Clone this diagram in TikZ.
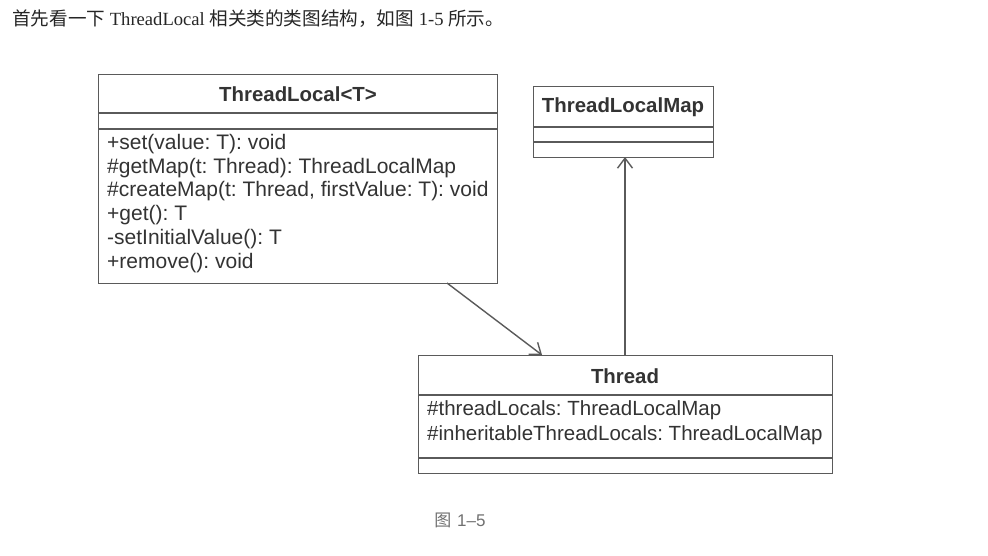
\documentclass[tikz,border=0pt]{standalone}
\usepackage{fontspec}
\setmainfont{Liberation Serif}
\setsansfont{Liberation Sans}
\newfontfamily\cjk{Noto Sans CJK SC}
\usetikzlibrary{arrows.meta}
\definecolor{umltxt}{HTML}{333333}
\definecolor{umlline}{HTML}{5A5A5A}
\definecolor{capgray}{HTML}{707070}
\tikzset{
  umlbox/.style={draw=umlline, line width=1.4pt, fill=white, rectangle, inner sep=0pt, anchor=north west},
  umlsep/.style={draw=umlline, line width=1.4pt},
  umltitle/.style={font=\sffamily\bfseries\fontsize{20.4}{24}\selectfont, text=umltxt, inner sep=0pt},
  umltext/.style={font=\sffamily\fontsize{21}{24}\selectfont\frenchspacing, text=umltxt, inner sep=0pt, anchor=mid west},
  umlfield/.style={umltext, font=\sffamily\fontsize{20.5}{24}\selectfont\frenchspacing},
  umlarrow/.style={draw=umlline, line width=1.4pt, -{Straight Barb[length=10pt,width=15pt,line width=1.4pt]}},
}
\begin{document}
\begin{tikzpicture}[x=1pt,y=-1pt]
\useasboundingbox (0,0) rectangle (988,555);
% intro text
\node[anchor=west, inner sep=0pt, text=black!85, font=\fontsize{18.6}{22}\selectfont] (intro) at (12,19)
  {{\cjk 首先看一下} ThreadLocal {\cjk 相关类的类图结构，如图} 1-5 {\cjk 所示。}};
% ThreadLocal<T>
\node[umlbox, minimum width=399pt, minimum height=209pt] (tl) at (98,74) {};
\draw[umlsep] (98,113) -- (497,113);
\draw[umlsep] (98,129) -- (497,129);
\node[umltitle] (tlname) at (298,94) {ThreadLocal<T>};
\node[umltext] (m1) at (107,147) {+set(value: T): void};
\node[umltext] (m2) at (107,171) {\#getMap(t: Thread): ThreadLocalMap};
\node[umltext] (m3) at (107,194.5) {\#createMap(t: Thread, firstValue: T): void};
\node[umltext] (m4) at (107,218) {+get(): T};
\node[umltext] (m5) at (107,242) {-setInitialValue(): T};
\node[umltext] (m6) at (107,266) {+remove(): void};
% ThreadLocalMap
\node[umlbox, minimum width=180pt, minimum height=71pt] (tlm) at (533,86) {};
\draw[umlsep] (533,127) -- (713,127);
\draw[umlsep] (533,142) -- (713,142);
\node[umltitle] (tlmname) at (623,107) {ThreadLocalMap};
% Thread
\node[umlbox, minimum width=414pt, minimum height=118pt] (thr) at (418,355) {};
\draw[umlsep] (418,395) -- (832,395);
\draw[umlsep] (418,458) -- (832,458);
\node[umltitle] (thrname) at (625,376) {Thread};
\node[umlfield] (f1) at (427,413) {\#threadLocals: ThreadLocalMap};
\node[umlfield] (f2) at (427,438) {\#inheritableThreadLocals: ThreadLocalMap};
% connectors
\coordinate (a1s) at (447,283);
\coordinate (a1e) at (542,355);
\coordinate (a2s) at (625,355);
\coordinate (a2e) at (625,157);
\draw[umlarrow] (a1s) -- (a1e);
\draw[umlarrow] (a2s) -- (a2e);
% caption
\node[inner sep=0pt, text=capgray, font=\sffamily\fontsize{17}{20}\selectfont] (cap) at (460,520) {{\cjk 图}\,\,1–5};
\end{tikzpicture}
\end{document}
